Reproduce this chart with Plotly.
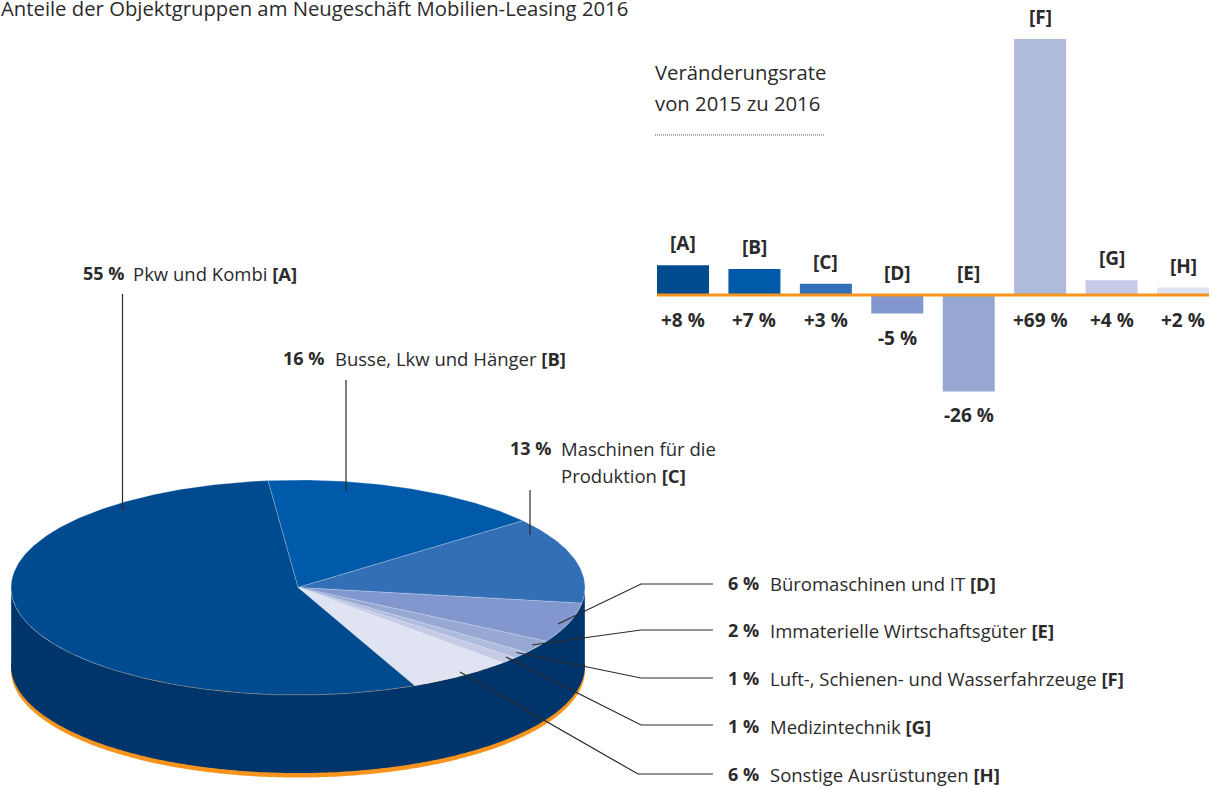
import numpy as np
import plotly.graph_objects as go

# ---- data ----
TITLE = "Anteile der Objektgruppen am Neugeschäft Mobilien-Leasing 2016"
CODES = ["A", "B", "C", "D", "E", "F", "G", "H"]
NAMES = [["Pkw und Kombi"], ["Busse, Lkw und Hänger"], ["Maschinen für die", "Produktion"],
         ["Büromaschinen und IT"], ["Immaterielle Wirtschaftsgüter"],
         ["Luft-, Schienen- und Wasserfahrzeuge"], ["Medizintechnik"], ["Sonstige Ausrüstungen"]]
SHARES = [55, 16, 13, 6, 2, 1, 1, 6]
CHANGES = [8, 7, 3, -5, -26, 69, 4, 2]
COLORS = ["#004a8f", "#015aa9", "#326fb7", "#8197cd", "#97a8d3", "#aebbdd", "#c5cbe6", "#dfe3f2"]

# ---- layout constants (pixels) ----
W, H = 1215, 789
CX, CY, RX, RY = 298, 587.5, 287, 107.5
DEPTH, RIM = 78, 82.5
START_DEG = -6.0       # clockwise from 12 o'clock, start of slice B
SIDE = "#00356b"
ORANGE = "#f7941d"
INK = "#2b2b2b"
FONT = "Open Sans"
FS = 18.5

def ell(deg, dy=0):
    t = np.radians(deg)
    return CX + RX * np.sin(t), CY + dy - RY * np.cos(t)

fig = go.Figure()

# rim and side
a = np.linspace(88, 272, 240)
xo, yo = ell(a, RIM)
xt, yt = ell(a, 0)
fig.add_trace(go.Scatter(x=xo, y=yo, fill="toself", fillcolor=ORANGE, mode="none", hoverinfo="skip"))
xb, yb = ell(a, DEPTH)
fig.add_trace(go.Scatter(x=np.r_[xt, xb[::-1]], y=np.r_[yt, yb[::-1]], fill="toself",
                         fillcolor=SIDE, mode="none", hoverinfo="skip"))

# top slices, clockwise from B; A last
order = [1, 2, 3, 4, 5, 6, 7, 0]
angle = START_DEG
for i in order:
    sweep = SHARES[i] / sum(SHARES) * 360
    arc = np.linspace(angle, angle + sweep, max(4, int(sweep * 2)))
    xa, ya = ell(arc)
    fig.add_trace(go.Scatter(x=np.r_[CX, xa, CX], y=np.r_[CY, ya, CY], fill="toself",
                             fillcolor=COLORS[i], mode="lines",
                             line=dict(color="rgba(225,232,245,0.45)", width=0.6),
                             hoverinfo="skip", name=CODES[i]))
    angle += sweep

# bars
fig.add_trace(go.Bar(x=CODES, y=CHANGES, marker=dict(color=COLORS, line=dict(width=0)),
                     xaxis="x2", yaxis="y2", hoverinfo="skip"))

PITCH, X0 = 71.43, 683
Y_SCALE, Y_ZERO = 3.71, 295
XR = (-0.5, 7.4)
YR = (-30, 75)
xdom = [(X0 + XR[0] * PITCH) / W, (X0 + XR[1] * PITCH) / W]
ydom = [1 - (Y_ZERO - YR[0] * Y_SCALE) / H, 1 - (Y_ZERO - YR[1] * Y_SCALE) / H]

ann = []
def txt(x, y, s, size=FS, anchor="left", color=INK):
    ann.append(dict(x=x, y=y, xref="x", yref="y", text=s, showarrow=False, xanchor=anchor,
                    yanchor="middle", align="left", font=dict(family=FONT, size=size, color=color)))

txt(630, 8, TITLE, 20.3, "right")
txt(653, 72, "Veränderungsrate", 20.3)
txt(653, 103, "von 2015 zu 2016", 20.3)

# pie labels: (percent right edge, name left edge, first-line y)
LABEL_POS = [(126, 131, 273), (326, 333, 358), (553, 559, 448), (761, 768, 583),
             (761, 768, 630), (761, 768, 678), (761, 768, 726), (761, 768, 774)]
LINE_GAP = 27
for i, (px, nx, y) in enumerate(LABEL_POS):
    txt(px, y, f"<b>{SHARES[i]}\u00a0%</b>", size=18, anchor="right")
    lines = NAMES[i]
    for k, line in enumerate(lines):
        tail = f" <b>[{CODES[i]}]</b>" if k == len(lines) - 1 else ""
        txt(nx, y + k * LINE_GAP, line + tail)

# bar labels
for c, v in zip(CODES, CHANGES):
    ann.append(dict(x=c, y=max(v, 0), xref="x2", yref="y2", yshift=22, showarrow=False,
                    text=f"<b>[{c}]</b>", font=dict(family=FONT, size=19, color=INK)))
    sign = "+" if v > 0 else "-"
    ann.append(dict(x=c, y=min(v, 0), xref="x2", yref="y2", yshift=-25 + (1 if v < 0 else 0), showarrow=False,
                    text=f"<b>{sign}{abs(v)}\u00a0%</b>", font=dict(family=FONT, size=19, color=INK)))

# leader lines
LEADERS = [
    [(122.5, 294), (122.5, 511)],
    [(346, 380), (346, 491)],
    [(530, 490), (530, 535)],
    [(558, 624), (641, 584), (713, 584)],
    [(532, 645), (641, 630), (713, 630)],
    [(516.5, 652.5), (641, 678), (713, 678)],
    [(506, 657), (641, 725), (713, 725)],
    [(460, 672), (638, 774), (713, 774)],
]
shapes = []
for pts in LEADERS:
    path = "M " + " L ".join(f"{x},{y}" for x, y in pts)
    shapes.append(dict(type="path", path=path, xref="x", yref="y",
                       line=dict(color=INK, width=1.2), layer="above"))
# bar baseline
shapes.append(dict(type="line", xref="x2", yref="y2", x0=-0.364, x1=7.364, y0=0, y1=0,
                   line=dict(color=ORANGE, width=3), layer="above"))
# dotted rule
shapes.append(dict(type="line", xref="x", yref="y", x0=655, x1=825, y0=135, y1=135,
                   line=dict(color="#555555", width=1, dash="1px 1px")))

fig.update_layout(
    width=W, height=H, autosize=False, margin=dict(l=0, r=0, t=0, b=0),
    paper_bgcolor="white", plot_bgcolor="rgba(0,0,0,0)", showlegend=False, bargap=0.272,
    font=dict(family=FONT, color=INK),
    annotations=ann, shapes=shapes,
    xaxis=dict(range=[0, W], visible=False, domain=[0, 1], fixedrange=True),
    yaxis=dict(range=[H, 0], visible=False, domain=[0, 1], fixedrange=True),
    xaxis2=dict(domain=xdom, range=list(XR), visible=False, type="category",
                categoryorder="array", categoryarray=CODES, anchor="y2", fixedrange=True),
    yaxis2=dict(domain=ydom, range=list(YR), visible=False, anchor="x2", fixedrange=True),
)
fig.write_html("out.html", config={"displayModeBar": False},
               post_script="document.body.style.margin='0';document.body.style.overflow='hidden';")
